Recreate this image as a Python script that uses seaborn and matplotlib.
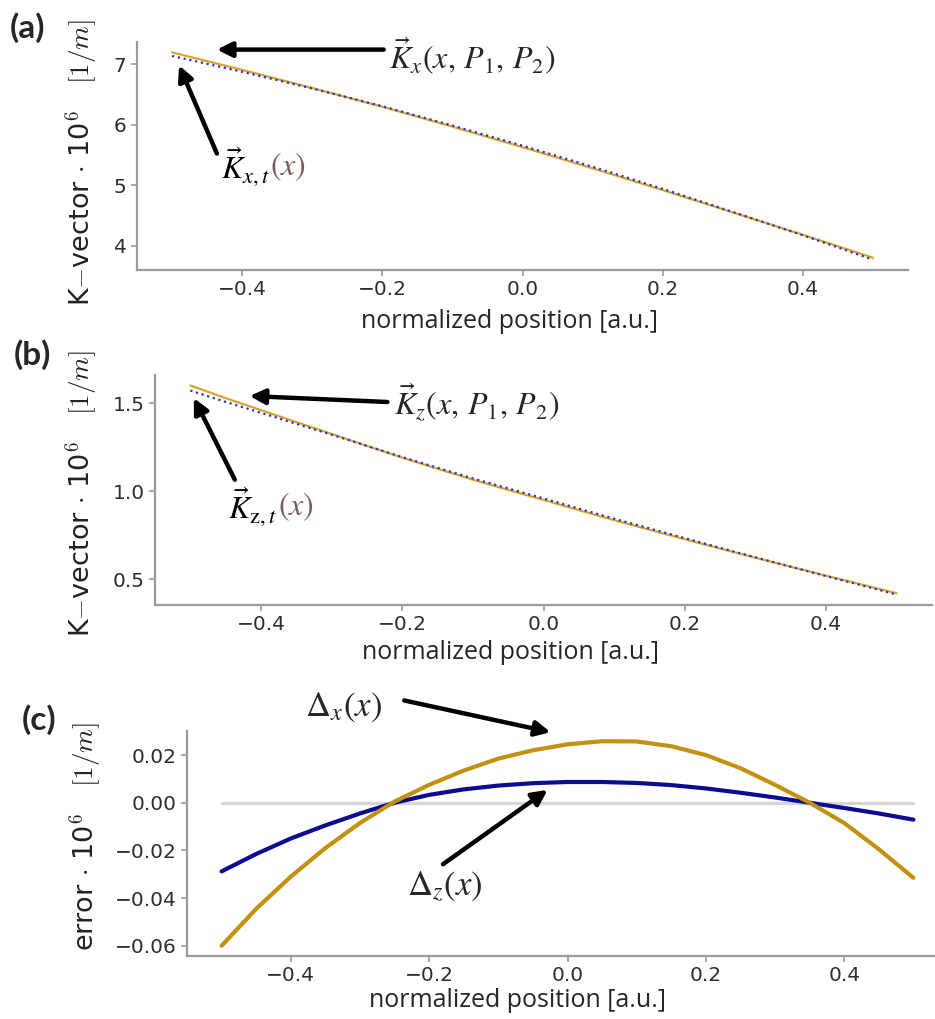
import numpy as np
import matplotlib
matplotlib.use("Agg")
import matplotlib.pyplot as plt
import seaborn as sns

sns.set_style("ticks")
plt.rcParams["font.family"] = ["DejaVu Sans"]
plt.rcParams["mathtext.fontset"] = "cm"

# normalized position grid
position = [-0.50, -0.45, -0.40, -0.35, -0.30, -0.25, -0.20, -0.15, -0.10, -0.05,
            0.00, 0.05, 0.10, 0.15, 0.20, 0.25, 0.30, 0.35, 0.40, 0.45, 0.50]

# fitted K-vector components (x 1e6, 1/m)
kx_fit = [7.200, 7.055, 6.910, 6.760, 6.610, 6.455, 6.300, 6.135, 5.970, 5.800,
          5.630, 5.455, 5.280, 5.100, 4.920, 4.735, 4.550, 4.365, 4.180, 3.990, 3.800]
kz_fit = [1.600, 1.528, 1.460, 1.392, 1.325, 1.257, 1.190, 1.127, 1.065, 1.007,
          0.950, 0.892, 0.835, 0.781, 0.727, 0.674, 0.622, 0.571, 0.520, 0.470, 0.420]

# deviation of the target from the fit (x 1e6, 1/m)
delta_x = [-0.0600, -0.0445, -0.0310, -0.0190, -0.0085, 0.0005, 0.0075, 0.0135, 0.0185, 0.0220,
           0.0245, 0.0258, 0.0257, 0.0237, 0.0200, 0.0145, 0.0075, 0.0000, -0.0085, -0.0195, -0.0315]
delta_z = [-0.0288, -0.0215, -0.0150, -0.0095, -0.0045, 0.0000, 0.0033, 0.0056, 0.0072, 0.0082,
           0.0087, 0.0087, 0.0083, 0.0074, 0.0060, 0.0042, 0.0022, 0.0000, -0.0022, -0.0045, -0.0071]

x = np.array(position)
kx_target = np.array(kx_fit) + np.array(delta_x)
kz_target = np.array(kz_fit) + np.array(delta_z)

W, H = 935, 1019
fig = plt.figure(figsize=(W / 100, H / 100), dpi=100)


def box(left, right, top, bottom):
    return [left / W, 1 - bottom / H, (right - left) / W, (bottom - top) / H]


ax_a = fig.add_axes(box(137, 908, 42, 270))
ax_b = fig.add_axes(box(155, 932, 375, 605))
ax_c = fig.add_axes(box(187, 948, 731, 956))

fit_col = "#d9a62a"
target_col = "#2f2fd8"
err_x_col = "#c4900f"
err_z_col = "#0c0c92"

label_font = dict(family="Open Sans", size=18)
k_kw = dict(math_fontfamily="stix", fontsize=23)
d_kw = dict(math_fontfamily="stix", fontsize=25)
arrow_kw = dict(arrowstyle="-|>,head_width=0.45,head_length=0.9", color="black", lw=3.2,
                shrinkA=0, shrinkB=0)
brown = "#7d5c5c"
ylab_k = r"K$-$vector $\cdot$ 10$^6$   $[1/m]$"


def style_axes(ax):
    sns.despine(ax=ax)
    for s in ("left", "bottom"):
        ax.spines[s].set_color("#9a9a9a")
        ax.spines[s].set_linewidth(1.6)
    ax.tick_params(colors="#9a9a9a", labelcolor="#2e2e2e", labelsize=14.5, length=4, width=1.2)
    ax.set_xticks([-0.4, -0.2, 0.0, 0.2, 0.4])
    ax.set_xlabel("normalized position [a.u.]", **label_font)


def arrow(ax, head, tail):
    ax.annotate("", xy=head, xytext=tail, arrowprops=arrow_kw, annotation_clip=False)


def two_part_label(ax, xy, main):
    t = ax.text(xy[0], xy[1], main, ha="left", va="center", color="black", **k_kw)
    ax.annotate(r"$(x)$", xy=(1, 0.5), xycoords=t, ha="left", va="center",
                color=brown, **k_kw)


# (a) x component
sns.lineplot(x=x, y=kx_fit, ax=ax_a, color=fit_col, lw=1.6)
sns.lineplot(x=x, y=kx_target, ax=ax_a, color=target_col, lw=1.6, linestyle=":")
ax_a.set_yticks([4, 5, 6, 7])
style_axes(ax_a)
ax_a.set_ylabel(ylab_k, fontsize=19.5, color="#222222")
ax_a.yaxis.set_label_coords(-0.048, 0.47)
ax_a.xaxis.set_label_coords(0.4825, -0.17)
arrow(ax_a, (-0.436, 7.246), (-0.198, 7.246))
ax_a.text(-0.191, 7.13, r"$\vec{K}_x(x,\,P_1,\,P_2)$", ha="left", va="center", **k_kw)
arrow(ax_a, (-0.490, 6.984), (-0.436, 5.525))
two_part_label(ax_a, (-0.430, 5.31), r"$\vec{K}_{x,t}$")

# (b) z component
sns.lineplot(x=x, y=kz_fit, ax=ax_b, color=fit_col, lw=1.6)
sns.lineplot(x=x, y=kz_target, ax=ax_b, color=target_col, lw=1.6, linestyle=":")
ax_b.set_yticks([0.5, 1.0, 1.5])
style_axes(ax_b)
ax_b.set_ylabel(ylab_k, fontsize=19.5, color="#222222")
ax_b.yaxis.set_label_coords(-0.071, 0.487)
ax_b.xaxis.set_label_coords(0.458, -0.152)
arrow(ax_b, (-0.416, 1.540), (-0.221, 1.506))
ax_b.text(-0.211, 1.506, r"$\vec{K}_z(x,\,P_1,\,P_2)$", ha="left", va="center", **k_kw)
arrow(ax_b, (-0.495, 1.528), (-0.437, 1.065))
two_part_label(ax_b, (-0.446, 0.912), r"$\vec{K}_{\mathrm{z},t}$")

# (c) errors
sns.lineplot(x=[position[0], position[-1]], y=[0, 0], ax=ax_c, color="#d6d6d6", lw=2.4)
sns.lineplot(x=x, y=delta_z, ax=ax_c, color=err_z_col, lw=3.0)
sns.lineplot(x=x, y=delta_x, ax=ax_c, color=err_x_col, lw=3.0)
ax_c.set_yticks([-0.06, -0.04, -0.02, 0.00, 0.02])
style_axes(ax_c)
ax_c.set_ylabel(r"error $\cdot$ 10$^6$   $[1/m]$", fontsize=19.5, color="#222222")
ax_c.yaxis.set_label_coords(-0.109, 0.533)
ax_c.xaxis.set_label_coords(0.434, -0.142)
ax_c.text(-0.379, 0.040, r"$\Delta_x(x)$", ha="left", va="center", **d_kw)
arrow(ax_c, (-0.0245, 0.0296), (-0.236, 0.0429))
ax_c.text(-0.232, -0.0354, r"$\Delta_z(x)$", ha="left", va="center", **d_kw)
arrow(ax_c, (-0.0288, 0.0054), (-0.180, -0.0258))

# panel letters
for lab, px, py in (("(a)", 10, 12), ("(b)", 14, 339), ("(c)", 22, 704)):
    fig.text(px / W, 1 - py / H, lab, family="Lato", weight="bold", size=24, ha="left", va="top")

fig.savefig("out.png", dpi=100)
